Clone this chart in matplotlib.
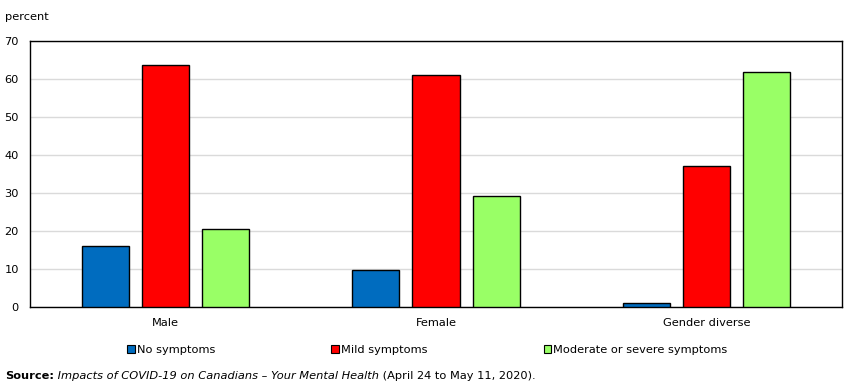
import matplotlib
matplotlib.use("Agg")
import matplotlib.pyplot as plt
import numpy as np
from matplotlib.patches import Patch

# data
groups = ["Male", "Female", "Gender diverse"]
series = ["No symptoms", "Mild symptoms", "Moderate or severe symptoms"]
no_symptoms = [16.0, 9.7, 1.0]
mild = [63.7, 61.1, 37.1]
moderate = [20.5, 29.2, 61.8]
colors = ["#006cbf", "#ff0000", "#99ff66"]

W, H = 851, 392
fig = plt.figure(figsize=(W / 100, H / 100), dpi=100)
plt.rcParams["font.family"] = "DejaVu Sans"
fs = 8.2

# axes box in pixels: left 30, right 842, top 41, bottom 307
ax = fig.add_axes([30 / W, 1 - 307 / H, 812 / W, 266 / H])

x = np.arange(len(groups))
width = 0.174
offset = 0.222
for i, (vals, col) in enumerate(zip([no_symptoms, mild, moderate], colors)):
    ax.bar(x + (i - 1) * offset, vals, width, color=col, edgecolor="black", linewidth=1, zorder=3)

ax.set_xlim(-0.5, 2.5)
ax.set_ylim(0, 70)
ax.set_yticks(range(0, 71, 10))
ax.set_xticks(x)
ax.set_xticklabels(groups)
ax.tick_params(axis="both", length=0, labelsize=fs, colors="black")
ax.tick_params(axis="y", pad=8)
ax.tick_params(axis="x", pad=8)
ax.grid(axis="y", color="#dadada", linewidth=1, zorder=0)
for s in ax.spines.values():
    s.set_color("black")
    s.set_linewidth(1)

fig.text(5 / W, 1 - 17 / H, "percent", fontsize=fs, va="center", ha="left")

handles = [Patch(facecolor=c, edgecolor="black", linewidth=0.8) for c in colors]
fig.legend(handles, series, loc="center", bbox_to_anchor=(0.502, 1 - 350 / H), ncol=3,
           frameon=False, fontsize=fs, handlelength=0.7, handleheight=0.7,
           handletextpad=0.15, columnspacing=10.2)

# source line built from pieces
renderer = fig.canvas.get_renderer()
pieces = [("Source:", "bold", "normal"),
          (" Impacts of COVID-19 on Canadians – Your Mental Health", "normal", "italic"),
          (" (April 24 to May 11, 2020).", "normal", "normal")]
xpos = 5 / W
for txt, wt, st in pieces:
    t = fig.text(xpos, 1 - 376 / H, txt, fontsize=fs, fontweight=wt, fontstyle=st,
                 va="center", ha="left")
    bb = t.get_window_extent(renderer=renderer)
    xpos += bb.width / W

fig.savefig("out.png", dpi=100)
